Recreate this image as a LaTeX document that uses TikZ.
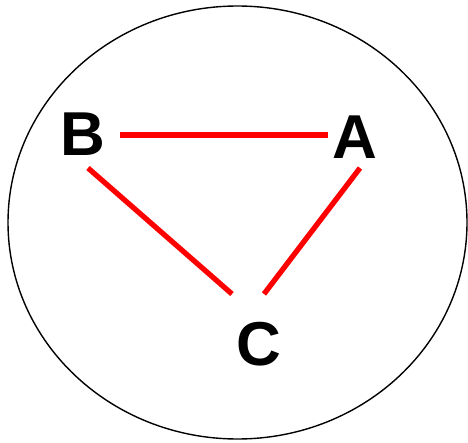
\documentclass[tikz,border=0pt]{standalone}
\usepackage{fontspec}
\setmainfont{Liberation Sans}
\usetikzlibrary{shapes.geometric}
\begin{document}
\begin{tikzpicture}[x=1pt,y=-1pt,
  lbl/.style={font=\fontsize{62}{62}\selectfont\bfseries,inner sep=0pt,anchor=base,text=black},
  edge/.style={draw=red,line width=5.3pt},
  ring/.style={draw=black,line width=1.4pt}]
\useasboundingbox (0,0) rectangle (468,443);
\node[ring,ellipse,minimum width=459pt,minimum height=433pt,inner sep=0pt] (E) at (237.5,222.5) {};
\node[lbl] (B) at (83,155.5) {B};
\node[lbl] (A) at (354.5,158.5) {A};
\node[lbl] (C) at (258.5,365.5) {C};
\draw[edge] ([shift={(37,-20.5)}]B.base) -- ([shift={(-26.5,-23.5)}]A.base);
\draw[edge] ([shift={(5,12.5)}]B.base) -- ([shift={(-26.5,-71.5)}]C.base);
\draw[edge] ([shift={(5.5,9.5)}]A.base) -- ([shift={(5.5,-71.5)}]C.base);
\end{tikzpicture}
\end{document}
